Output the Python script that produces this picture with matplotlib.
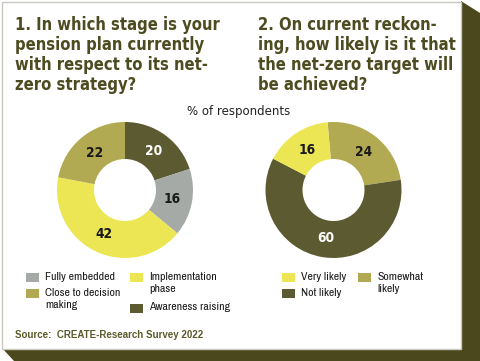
import matplotlib
matplotlib.use("Agg")
import matplotlib.pyplot as plt
from matplotlib import font_manager
from matplotlib.patches import Rectangle, Polygon

W, H = 480, 361

# chart data
STAGE_LABELS = ["Awareness raising", "Fully embedded", "Implementation\nphase", "Close to decision\nmaking"]
STAGE_VALUES = [20, 16, 42, 22]
LIKELY_LABELS = ["Somewhat\nlikely", "Not likely", "Very likely"]
LIKELY_VALUES = [24, 60, 16]

TITLE_1 = "1. In which stage is your\npension plan currently\nwith respect to its net-\nzero strategy?"
TITLE_2 = "2. On current reckon-\ning, how likely is it that\nthe net-zero target will\nbe achieved?"
SUBTITLE = "% of respondents"
SOURCE = "Source:  CREATE-Research Survey 2022"

DARK = "#5c5a30"
GREY = "#a6aaa6"
YELLOW = "#ece655"
KHAKI = "#b1aa52"
SHADOW = "#4a481c"
TITLE_COLOR = "#4d4b20"

STAGE_COLORS = [DARK, GREY, YELLOW, KHAKI]
LIKELY_COLORS = [KHAKI, DARK, YELLOW]


def pick_narrow():
    # first narrow face found by name, else Roboto
    for e in font_manager.fontManager.ttflist:
        if "Narrow" in e.name or "Condensed" in e.name:
            return dict(family=[e.name, "DejaVu Sans"])
    return dict(family=["Roboto", "DejaVu Sans"])


NARROW = pick_narrow()
BOLD_COND = dict(family=["DejaVu Sans"], fontweight="bold", fontstretch="condensed")


def Y(y):
    return H - y


fig = plt.figure(figsize=(W / 100, H / 100), dpi=100)
ax = fig.add_axes([0, 0, 1, 1])
ax.set_xlim(0, W)
ax.set_ylim(0, H)
ax.axis("off")

# card with 3d shadow
ax.add_patch(Polygon([(461, Y(1)), (W, Y(13)), (W, Y(H)), (461, Y(H))], color=SHADOW, lw=0))
ax.add_patch(Polygon([(2, Y(348)), (461, Y(348)), (W, Y(352)), (W, Y(H)), (14, Y(H))], color=SHADOW, lw=0))
ax.add_patch(Rectangle((2, Y(349)), 459, 347, facecolor="white", edgecolor="#c9c9c0", lw=1))

# titles
for x, title in [(15, TITLE_1), (258, TITLE_2)]:
    ax.text(x, Y(15.5), title, ha="left", va="top", fontsize=11.9,
            color=TITLE_COLOR, linespacing=1.16, **BOLD_COND)
ax.text(239, Y(111), SUBTITLE, ha="center", va="center", fontsize=8.5,
        color="#222222", family=["DejaVu Sans"])


def donut(values, colors, center, start):
    wedges, texts, autotexts = ax.pie(
        values, colors=colors, startangle=start, counterclock=False,
        center=center, radius=68, frame=True,
        wedgeprops=dict(width=37, linewidth=0),
        autopct=lambda p: f"{p:.0f}", pctdistance=0.71,
        textprops=dict(fontsize=9.8, color="#1a1a1a", **BOLD_COND),
    )
    for w, t in zip(wedges, autotexts):
        if w.get_facecolor()[:3] == matplotlib.colors.to_rgb(DARK):
            t.set_color("white")


donut(STAGE_VALUES, STAGE_COLORS, (125, Y(190)), 90)
donut(LIKELY_VALUES, LIKELY_COLORS, (333.5, Y(190)), 95)
ax.set_xlim(0, W)
ax.set_ylim(0, H)
ax.set_aspect("auto")
ax.axis("off")


def legend_item(x, y, color, label):
    ax.add_patch(Rectangle((x, Y(y + 4.5)), 13, 9, color=color, lw=0))
    ax.text(x + 19, Y(y - 5.5), label, ha="left", va="top", fontsize=8.5,
            color="#1a1a1a", linespacing=1.3, **NARROW)


legend_item(26, 277, STAGE_COLORS[1], STAGE_LABELS[1])
legend_item(26, 293, STAGE_COLORS[3], STAGE_LABELS[3])
legend_item(130, 277, STAGE_COLORS[2], STAGE_LABELS[2])
legend_item(130, 308, STAGE_COLORS[0], STAGE_LABELS[0])

legend_item(282, 277, LIKELY_COLORS[2], LIKELY_LABELS[2])
legend_item(282, 293, LIKELY_COLORS[1], LIKELY_LABELS[1])
legend_item(358, 277, LIKELY_COLORS[0], LIKELY_LABELS[0])

ax.text(15, Y(335.5), SOURCE, ha="left", va="center", fontsize=7.0, fontweight="bold",
        color="#5b5a2b", family=["Liberation Sans", "DejaVu Sans"])

fig.savefig("out.png", dpi=100)
